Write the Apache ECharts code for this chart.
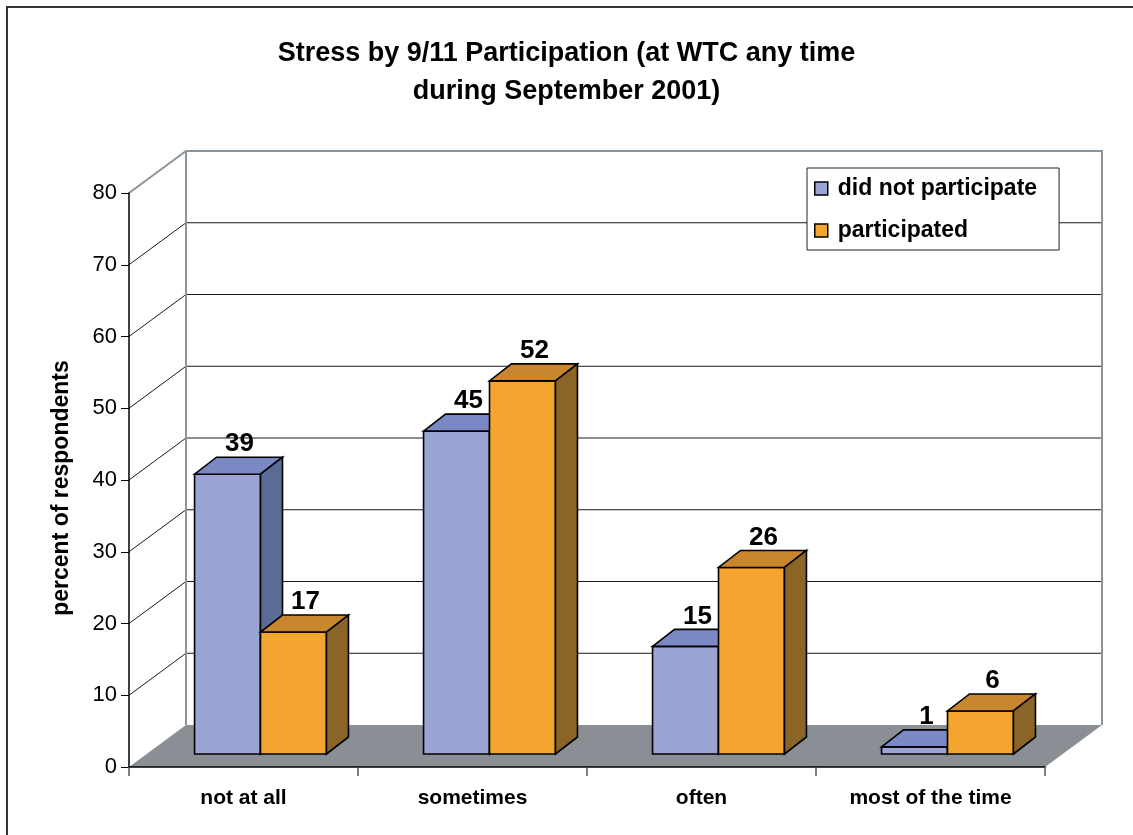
<!DOCTYPE html>
<html>
<head>
<meta charset="utf-8">
<script src="https://cdn.jsdelivr.net/npm/echarts@6/dist/echarts.min.js"></script>
<style>
  html, body { margin: 0; padding: 0; background: #fff; }
  #main { width: 1133px; height: 835px; }
</style>
</head>
<body>
<div id="main"></div>
<script>
// data
var categories = ['not at all', 'sometimes', 'often', 'most of the time'];
var didNotParticipate = [39, 45, 15, 1];
var participated = [17, 52, 26, 6];
var yTicks = [0, 10, 20, 30, 40, 50, 60, 70, 80];

var FONT = '"Liberation Sans", Arial, sans-serif';
// 3d look (pixels)
var WALL = [57, -42];      // depth of floor / back wall
var FRONT = [17, -13];     // where the bars start in depth
var DEPTH = [22, -17];     // depth of one bar

var colors = {
	blue: { front: '#9aa5d3', top: '#7a89c4', side: '#5c6b95' },
	orange: { front: '#f4a52f', top: '#c8872e', side: '#8b6528' }
};

function pt(x, y) { return [x, y]; }

// walls, floor and back gridlines
function renderWall(params, api) {
	var cs = params.coordSys;
	var x = cs.x, y = cs.y, w = cs.width, h = cs.height;
	var kids = [];
	kids.push({
		type: 'polygon',
		shape: { points: [pt(x, y + h), pt(x + w, y + h), pt(x + w + WALL[0], y + h + WALL[1]), pt(x + WALL[0], y + h + WALL[1])] },
		style: { fill: '#898f94', stroke: null }
	});
	for (var k = 1; k < yTicks.length - 1; k++) {
		var ty = api.coord([0, yTicks[k]])[1];
		kids.push({
			type: 'polyline',
			shape: { points: [pt(x, ty), pt(x + WALL[0], ty + WALL[1]), pt(x + w + WALL[0], ty + WALL[1])] },
			style: { stroke: '#1a1a1a', lineWidth: 1, fill: null }
		});
	}
	// wall border
	kids.push({
		type: 'polyline',
		shape: { points: [pt(x, y), pt(x + WALL[0], y + WALL[1]), pt(x + w + WALL[0], y + WALL[1]), pt(x + w + WALL[0], y + h + WALL[1])] },
		style: { stroke: '#8c949b', lineWidth: 2, fill: null }
	});
	kids.push({
		type: 'line',
		shape: { x1: x + WALL[0], y1: y + WALL[1], x2: x + WALL[0], y2: y + h + WALL[1] },
		style: { stroke: '#8c949b', lineWidth: 2 }
	});
	return { type: 'group', children: kids };
}

function makeBarRenderer(col, leftSide) {
	return function(params, api) {
		var i = api.value(0);
		var v = api.value(1);
		var base = api.coord([i, 0]);
		var top = api.coord([i, v]);
		var bw = api.size([1, 0])[0] * 0.288;
		var x0 = (leftSide ? base[0] - bw : base[0]) + FRONT[0];
		var x1 = x0 + bw;
		var yb = base[1] + FRONT[1];
		var yt = top[1] + FRONT[1];
		var dx = DEPTH[0], dy = DEPTH[1];
		var st = { stroke: '#000', lineWidth: 1.6, lineJoin: 'miter' };
		return {
			type: 'group',
			children: [{
				type: 'polygon',
				shape: { points: [pt(x0, yt), pt(x1, yt), pt(x1, yb), pt(x0, yb)] },
				style: Object.assign({ fill: col.front }, st)
			}, {
				type: 'polygon',
				shape: { points: [pt(x0, yt), pt(x1, yt), pt(x1 + dx, yt + dy), pt(x0 + dx, yt + dy)] },
				style: Object.assign({ fill: col.top }, st)
			}, {
				type: 'polygon',
				shape: { points: [pt(x1, yt), pt(x1 + dx, yt + dy), pt(x1 + dx, yb + dy), pt(x1, yb)] },
				style: Object.assign({ fill: col.side }, st)
			}, {
				type: 'text',
				style: {
					text: String(v),
					x: (x0 + x1) / 2 + dx / 2 + 1,
					y: yt + dy,
					textAlign: 'center',
					textVerticalAlign: 'bottom',
					font: 'bold 26px ' + FONT,
					fill: '#000'
				}
			}]
		};
	};
}

function toPairs(arr) {
	return arr.map(function(v, i) { return [i, v]; });
}

var myChart = echarts.init(document.getElementById('main'));

var option = {
	animation: false,
	backgroundColor: '#fff',
	title: {
		text: 'Stress by 9/11 Participation (at WTC any time\nduring September 2001)',
		left: 'center',
		top: 30,
		textStyle: { fontFamily: FONT, fontSize: 27, fontWeight: 'bold', color: '#000', lineHeight: 38 }
	},
	legend: {
		orient: 'vertical',
		left: 807,
		top: 168,
		padding: [9, 22, 8, 7],
		itemGap: 19,
		itemWidth: 13,
		itemHeight: 13,
		icon: 'rect',
		backgroundColor: '#fff',
		borderColor: '#222',
		borderWidth: 1,
		borderRadius: 0,
		itemStyle: { borderColor: '#000', borderWidth: 1.5 },
		textStyle: { fontFamily: FONT, fontSize: 23, fontWeight: 'bold', color: '#000', lineHeight: 23, padding: [0, 0, 0, 5] },
		data: ['did not participate', 'participated']
	},
	graphic: [{
		type: 'rect',
		shape: { x: 7, y: 7, width: 1200, height: 900 },
		style: { fill: null, stroke: '#333', lineWidth: 2 },
		silent: true
	}],
	grid: { left: 129, right: 88, top: 193, bottom: 68 },
	xAxis: {
		type: 'category',
		data: categories,
		z: 10,
		axisLine: { lineStyle: { color: '#000', width: 1.5 } },
		axisTick: { show: true, length: 9, lineStyle: { color: '#555', width: 1.5 } },
		axisLabel: { fontFamily: FONT, fontSize: 21, fontWeight: 'bold', color: '#000', margin: 21 },
		splitLine: { show: false }
	},
	yAxis: {
		type: 'value',
		min: 0,
		max: 80,
		interval: 10,
		z: 10,
		name: 'percent of respondents',
		nameLocation: 'middle',
		nameRotate: 90,
		nameGap: 56,
		nameTextStyle: { fontFamily: FONT, fontSize: 23, fontWeight: 'bold', color: '#000', padding: [0, 16, 0, 0] },
		axisLine: { show: true, lineStyle: { color: '#000', width: 1.5 } },
		axisTick: { show: true, length: 8, lineStyle: { color: '#000', width: 1 } },
		axisLabel: { fontFamily: FONT, fontSize: 22, color: '#000', margin: 12 },
		splitLine: { show: false }
	},
	series: [{
		type: 'custom',
		name: 'wall',
		z: 1,
		silent: true,
		renderItem: renderWall,
		data: [[0, 0]]
	}, {
		type: 'custom',
		name: 'did not participate',
		z: 3,
		itemStyle: { color: colors.blue.front },
		renderItem: makeBarRenderer(colors.blue, true),
		encode: { x: 0, y: 1 },
		data: toPairs(didNotParticipate)
	}, {
		type: 'custom',
		name: 'participated',
		z: 4,
		itemStyle: { color: colors.orange.front },
		renderItem: makeBarRenderer(colors.orange, false),
		encode: { x: 0, y: 1 },
		data: toPairs(participated)
	}]
};

myChart.setOption(option);
</script>
</body>
</html>
